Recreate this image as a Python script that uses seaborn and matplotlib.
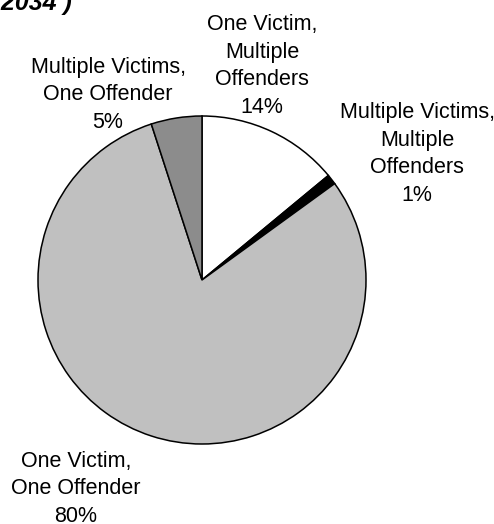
import matplotlib
matplotlib.use("Agg")
import matplotlib.pyplot as plt
import seaborn as sns

# Victim/offender situation shares (percent)
categories = [
    "One Victim,\nMultiple\nOffenders",
    "Multiple Victims,\nMultiple\nOffenders",
    "One Victim,\nOne Offender",
    "Multiple Victims,\nOne Offender",
]
shares = [14, 1, 80, 5]
slice_colors = ["#FFFFFF", "#000000", "#C0C0C0", "#8C8C8C"]
title_text = "(N = 2034 )"

sns.set_theme(style="white")
plt.rcParams["font.family"] = ["Liberation Sans", "DejaVu Sans"]

W, H, DPI = 494, 524, 100
fig = plt.figure(figsize=(W / DPI, H / DPI), dpi=DPI)
fig.patch.set_facecolor("white")

# pie placed by pixel geometry: centre and radius
cx, cy, r = 202, 280, 164
ax = fig.add_axes([(cx - r) / W, (H - cy - r) / H, 2 * r / W, 2 * r / H])
ax.pie(
    shares,
    colors=slice_colors,
    startangle=90,
    counterclock=False,
    radius=1.0,
    wedgeprops=dict(edgecolor="black", linewidth=1.1),
)
ax.set_xlim(-1.0, 1.0)
ax.set_ylim(-1.0, 1.0)
ax.set_aspect("equal")
ax.axis("off")

# label anchor positions (pixels from top-left)
label_pos = [(262, 66), (417, 154), (76, 489), (108, 95)]
for cat, val, (px, py) in zip(categories, shares, label_pos):
    fig.text(px / W, 1 - py / H, f"{cat}\n{val}%", ha="center", va="center",
             fontsize=15.5, color="black", linespacing=1.4)

fig.text(72 / W, 1 - 10 / H, title_text, ha="right", va="baseline",
         fontsize=18, fontweight="bold", fontstyle="italic", color="black")

fig.savefig("out.png", dpi=DPI, facecolor="white")
